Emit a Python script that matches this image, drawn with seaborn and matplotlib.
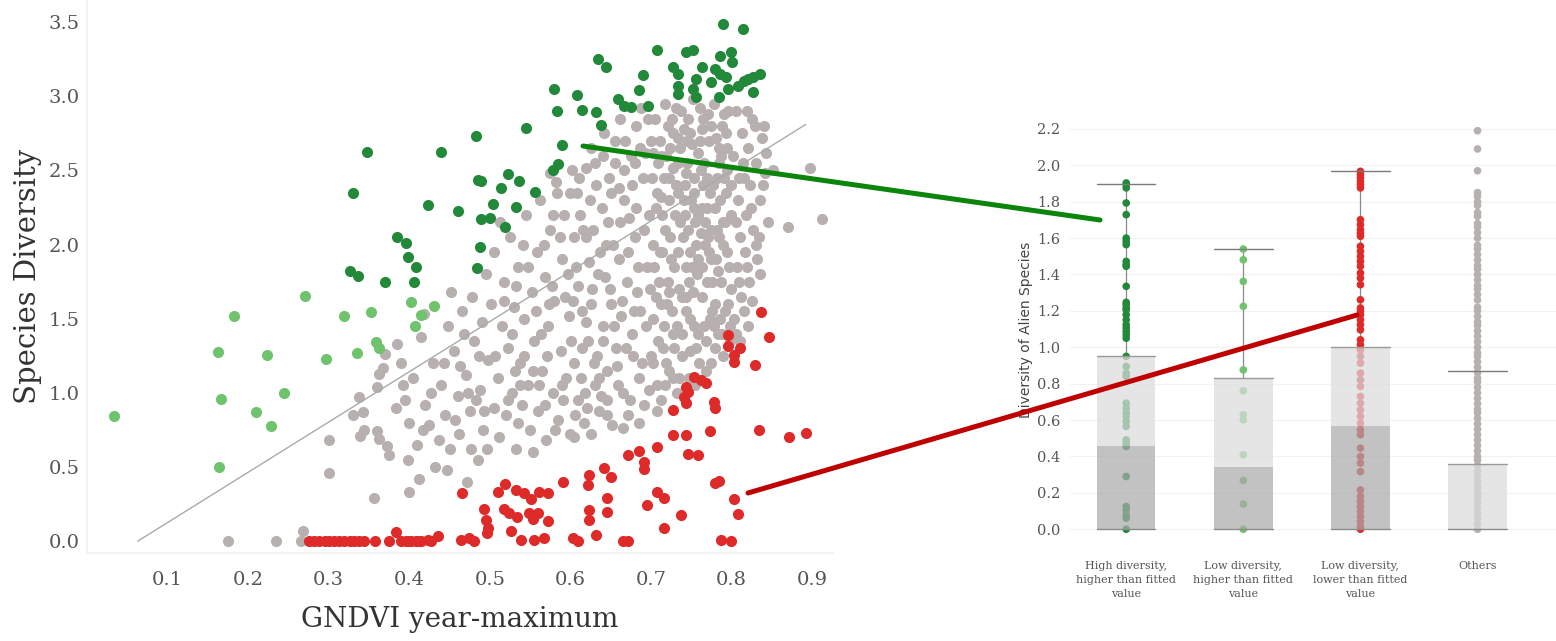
import matplotlib
matplotlib.use("Agg")
import matplotlib.pyplot as plt
from matplotlib.lines import Line2D
import seaborn as sns
import pandas as pd

# ---------------- data: left scatter (GNDVI vs species diversity) ----------------
dark_green_pts = [
    (0.789, 3.486), (0.814, 3.453), (0.707, 3.311), (0.744, 3.297), (0.752, 3.311), (0.786, 3.270),
    (0.799, 3.297), (0.801, 3.230), (0.634, 3.250), (0.644, 3.196), (0.690, 3.142), (0.727, 3.196),
    (0.733, 3.149), (0.764, 3.196), (0.780, 3.182), (0.786, 3.149), (0.793, 3.128), (0.821, 3.115),
    (0.836, 3.149), (0.827, 3.128), (0.815, 3.101), (0.808, 3.068), (0.796, 3.047), (0.785, 2.993),
    (0.827, 3.027), (0.756, 3.115), (0.752, 3.047), (0.756, 2.993), (0.734, 3.068), (0.734, 3.014),
    (0.774, 3.095), (0.685, 3.041), (0.696, 2.932), (0.659, 2.980), (0.666, 2.932), (0.675, 2.926),
    (0.580, 3.047), (0.608, 3.007), (0.615, 2.905), (0.632, 2.892), (0.638, 2.804), (0.583, 2.899),
    (0.545, 2.784), (0.589, 2.669), (0.483, 2.736), (0.440, 2.622), (0.585, 2.541), (0.578, 2.500),
    (0.485, 2.439), (0.489, 2.426), (0.523, 2.473), (0.536, 2.426), (0.514, 2.385), (0.556, 2.358),
    (0.423, 2.264), (0.461, 2.230), (0.504, 2.277), (0.532, 2.257), (0.489, 2.176), (0.500, 2.182),
    (0.519, 2.122), (0.488, 1.986), (0.484, 1.845), (0.396, 2.014), (0.399, 1.919), (0.409, 1.851),
    (0.406, 1.750), (0.347, 2.622), (0.330, 2.351), (0.385, 2.054), (0.326, 1.824), (0.337, 1.791),
    (0.370, 1.750),
]
light_green_pts = [
    (0.182, 1.520), (0.270, 1.655), (0.319, 1.520), (0.352, 1.547), (0.033, 0.845), (0.162, 1.277),
    (0.224, 1.257), (0.297, 1.230), (0.335, 1.270), (0.359, 1.345), (0.363, 1.304), (0.166, 0.959),
    (0.244, 1.000), (0.210, 0.872), (0.228, 0.777), (0.164, 0.500), (0.402, 1.615), (0.431, 1.588),
    (0.415, 1.527), (0.407, 1.453),
]
red_pts = [
    (0.796, 1.392), (0.846, 1.378), (0.837, 1.547), (0.796, 1.318), (0.811, 1.304), (0.803, 1.257),
    (0.803, 1.209), (0.829, 1.189), (0.753, 1.108), (0.762, 1.088), (0.768, 1.068), (0.743, 1.041),
    (0.746, 1.007), (0.741, 0.973), (0.743, 0.932), (0.778, 0.939), (0.780, 0.899), (0.727, 0.885),
    (0.773, 0.743), (0.834, 0.750), (0.871, 0.703), (0.892, 0.730), (0.727, 0.716), (0.744, 0.716),
    (0.708, 0.635), (0.685, 0.608), (0.671, 0.581), (0.746, 0.588), (0.758, 0.581), (0.692, 0.534),
    (0.691, 0.486), (0.642, 0.493), (0.650, 0.432), (0.623, 0.446), (0.622, 0.378), (0.591, 0.399),
    (0.784, 0.405), (0.780, 0.392), (0.708, 0.331), (0.716, 0.291), (0.803, 0.284), (0.646, 0.291),
    (0.695, 0.243), (0.808, 0.182), (0.737, 0.176), (0.623, 0.209), (0.623, 0.142), (0.646, 0.196),
    (0.716, 0.088), (0.632, 0.041), (0.466, 0.324), (0.510, 0.331), (0.519, 0.385), (0.532, 0.345),
    (0.542, 0.324), (0.551, 0.284), (0.561, 0.331), (0.572, 0.324), (0.493, 0.216), (0.495, 0.142),
    (0.498, 0.088), (0.497, 0.054), (0.518, 0.216), (0.524, 0.189), (0.534, 0.162), (0.549, 0.189),
    (0.554, 0.149), (0.560, 0.189), (0.572, 0.135), (0.526, 0.068), (0.539, 0.007), (0.555, 0.007),
    (0.567, 0.020), (0.603, 0.020), (0.609, 0.000), (0.665, 0.000), (0.671, 0.000), (0.787, 0.007),
    (0.799, 0.000), (0.464, 0.007), (0.474, 0.020), (0.480, 0.000), (0.436, 0.034), (0.423, 0.007),
    (0.411, 0.000), (0.399, 0.000), (0.276, 0.0), (0.282, 0.0), (0.288, 0.0), (0.295, 0.0),
    (0.301, 0.0), (0.307, 0.0), (0.313, 0.0), (0.319, 0.0), (0.326, 0.0), (0.332, 0.0), (0.338, 0.0),
    (0.344, 0.0), (0.357, 0.0), (0.375, 0.0), (0.384, 0.06), (0.390, 0.0), (0.396, 0.0), (0.402, 0.0),
    (0.409, 0.0), (0.415, 0.0), (0.427, 0.0),
]
gray_pts = [
    (0.175, 0.0), (0.235, 0.0), (0.268, 0.07), (0.266, 0.0), (0.300, 0.46), (0.301, 0.68), (0.33, 0.85),
    (0.338, 0.97), (0.342, 0.87), (0.344, 0.75), (0.339, 0.71), (0.356, 0.29), (0.36, 1.04), (0.362, 1.13),
    (0.368, 1.17), (0.37, 1.26), (0.36, 0.74), (0.363, 0.69), (0.372, 0.64), (0.375, 0.58), (0.383, 0.90),
    (0.39, 1.20), (0.395, 0.95), (0.40, 0.8), (0.398, 0.55), (0.385, 1.33), (0.392, 1.05),
    (0.405, 1.10), (0.41, 0.65), (0.412, 0.42), (0.415, 1.38), (0.42, 0.92), (0.425, 0.78), (0.43, 1.20),
    (0.432, 0.50), (0.44, 1.05), (0.445, 0.85), (0.448, 1.45), (0.45, 0.62), (0.455, 1.28), (0.46, 0.98),
    (0.462, 0.72), (0.465, 1.55), (0.47, 1.12), (0.472, 0.40), (0.475, 0.88), (0.478, 1.65), (0.48, 1.35),
    (0.485, 0.55), (0.488, 1.02), (0.49, 1.48), (0.492, 0.75), (0.495, 1.80), (0.498, 1.22), (0.40, 0.33),
    (0.418, 1.53), (0.437, 0.68), (0.452, 1.68), (0.468, 1.40), (0.483, 0.95), (0.497, 0.62), (0.502, 1.60),
    (0.505, 0.90),
    (0.505, 1.95), (0.51, 1.10), (0.512, 0.70), (0.515, 1.45), (0.518, 1.75), (0.52, 0.85), (0.522, 1.30),
    (0.525, 2.05), (0.528, 1.00), (0.53, 1.58), (0.532, 0.62), (0.535, 1.85), (0.538, 1.20), (0.54, 0.92),
    (0.542, 1.50), (0.545, 2.20), (0.548, 1.05), (0.55, 0.75), (0.552, 1.68), (0.555, 1.35), (0.558, 1.95),
    (0.56, 0.88), (0.562, 2.30), (0.565, 1.15), (0.568, 1.78), (0.57, 0.68), (0.572, 1.45), (0.575, 2.10),
    (0.578, 1.00), (0.58, 1.62), (0.582, 2.42), (0.585, 0.82), (0.588, 1.28), (0.59, 1.90), (0.592, 2.20),
    (0.595, 1.10), (0.598, 1.52), (0.60, 0.72), (0.513, 2.15), (0.527, 1.40), (0.543, 1.25), (0.557, 1.55),
    (0.567, 2.00), (0.577, 1.72), (0.587, 2.05), (0.597, 1.80), (0.553, 0.60), (0.535, 0.80), (0.583, 2.35),
    (0.575, 2.48),
    (0.602, 2.50), (0.605, 1.20), (0.607, 1.85), (0.61, 0.95), (0.612, 2.20), (0.615, 1.55), (0.617, 0.80),
    (0.62, 2.05), (0.622, 1.35), (0.625, 2.65), (0.627, 1.70), (0.63, 1.05), (0.632, 2.40), (0.635, 0.88),
    (0.637, 1.95), (0.64, 1.45), (0.642, 2.75), (0.645, 1.15), (0.647, 2.15), (0.65, 1.60), (0.652, 0.78),
    (0.655, 2.55), (0.657, 1.30), (0.66, 1.90), (0.662, 2.85), (0.665, 1.00), (0.667, 2.30), (0.67, 1.75),
    (0.672, 0.85), (0.675, 2.60), (0.677, 1.40), (0.68, 2.05), (0.682, 2.80), (0.685, 1.10), (0.687, 1.55),
    (0.69, 2.45), (0.692, 0.92), (0.695, 1.85), (0.697, 2.20), (0.70, 1.25), (0.603, 1.62), (0.613, 1.10),
    (0.623, 1.88), (0.633, 1.25), (0.643, 1.78), (0.653, 2.00), (0.663, 1.52), (0.673, 2.18), (0.683, 1.68),
    (0.693, 2.62), (0.608, 2.35), (0.628, 2.10), (0.648, 2.45), (0.668, 2.70), (0.688, 2.92), (0.618, 1.00),
    (0.638, 0.98), (0.658, 1.18), (0.678, 1.25), (0.698, 1.02), (0.605, 0.70), (0.625, 0.72), (0.645, 0.85),
    (0.665, 0.76), (0.685, 0.80), (0.62, 2.52), (0.64, 2.60), (0.66, 2.38), (0.68, 2.55), (0.70, 2.70),
    (0.702, 2.00), (0.703, 1.50), (0.705, 2.85), (0.707, 1.05), (0.708, 2.35), (0.71, 1.75), (0.712, 0.95),
    (0.713, 2.60), (0.715, 1.30), (0.717, 2.10), (0.718, 2.95), (0.72, 1.60), (0.722, 1.15), (0.723, 2.45),
    (0.725, 1.90), (0.727, 2.75), (0.728, 1.40), (0.73, 2.20), (0.732, 1.00), (0.733, 2.55), (0.735, 1.70),
    (0.737, 2.90), (0.738, 1.25), (0.74, 2.05), (0.742, 2.40), (0.743, 1.55), (0.745, 2.70), (0.747, 1.10),
    (0.748, 1.95), (0.75, 2.30), (0.752, 2.98), (0.753, 1.45), (0.755, 2.15), (0.757, 1.80), (0.758, 2.62),
    (0.76, 1.20), (0.762, 2.50), (0.763, 1.65), (0.765, 2.85), (0.767, 2.00), (0.768, 1.35), (0.77, 2.25),
    (0.772, 2.70), (0.773, 1.50), (0.775, 1.90), (0.777, 2.40), (0.778, 2.95), (0.78, 1.60), (0.782, 2.10),
    (0.783, 1.40), (0.785, 2.55), (0.787, 1.75), (0.788, 2.80), (0.79, 2.00), (0.792, 1.55), (0.793, 2.35),
    (0.795, 2.65), (0.797, 1.85), (0.798, 1.45), (0.80, 2.20), (0.706, 2.25), (0.716, 2.45), (0.726, 1.55),
    (0.736, 2.15), (0.746, 2.85), (0.756, 2.00), (0.766, 2.55), (0.776, 1.75), (0.786, 2.30), (0.796, 2.90),
    (0.704, 1.85), (0.714, 1.95), (0.724, 2.65), (0.734, 2.35), (0.744, 1.85), (0.754, 2.45), (0.764, 2.25),
    (0.774, 2.10), (0.784, 2.05), (0.794, 2.50), (0.709, 1.35), (0.719, 1.20), (0.729, 1.85), (0.739, 1.65),
    (0.749, 1.50), (0.759, 1.90), (0.769, 1.75), (0.779, 1.30), (0.789, 1.25), (0.799, 1.70), (0.711, 2.70),
    (0.721, 2.80), (0.731, 2.92), (0.741, 2.78), (0.751, 2.68), (0.761, 2.92), (0.771, 2.88), (0.781, 2.72),
    (0.791, 2.88), (0.712, 1.60), (0.732, 1.45), (0.752, 1.68), (0.772, 1.95), (0.792, 2.15), (0.722, 2.30),
    (0.742, 2.20), (0.762, 2.08), (0.782, 2.45), (0.735, 1.10), (0.755, 1.05), (0.775, 1.20), (0.708, 0.88),
    (0.745, 2.55), (0.765, 2.40),
    (0.802, 2.60), (0.803, 1.50), (0.805, 2.90), (0.807, 1.85), (0.808, 2.30), (0.81, 2.05), (0.812, 1.65),
    (0.813, 2.75), (0.815, 2.45), (0.817, 1.95), (0.818, 2.20), (0.82, 2.65), (0.822, 1.75), (0.823, 2.40),
    (0.825, 2.85), (0.827, 2.10), (0.83, 2.55), (0.832, 1.90), (0.835, 2.30), (0.838, 2.72), (0.84, 2.80),
    (0.842, 2.48), (0.845, 2.15), (0.806, 1.40), (0.811, 1.35), (0.816, 1.55), (0.821, 1.45), (0.826, 1.62),
    (0.831, 2.00), (0.836, 1.80), (0.843, 2.62), (0.852, 2.50), (0.87, 2.12), (0.898, 2.52), (0.912, 2.17),
    (0.601, 1.35), (0.604, 2.05), (0.606, 0.85), (0.609, 1.72), (0.611, 2.45), (0.614, 1.30), (0.616, 2.10),
    (0.619, 1.48), (0.621, 0.90), (0.624, 2.30), (0.626, 1.60), (0.629, 1.20), (0.631, 2.55), (0.634, 1.80),
    (0.636, 1.10), (0.639, 2.25), (0.641, 1.35), (0.644, 2.00), (0.646, 0.95), (0.649, 1.70), (0.651, 2.35),
    (0.654, 1.45), (0.656, 2.70), (0.659, 1.05), (0.661, 2.15), (0.664, 1.62), (0.666, 2.50), (0.669, 1.30),
    (0.671, 1.95), (0.674, 0.95), (0.676, 2.40), (0.679, 1.55), (0.681, 2.25), (0.684, 1.85), (0.686, 2.65),
    (0.689, 1.20), (0.691, 2.10), (0.694, 1.45), (0.696, 2.85), (0.699, 1.70),
    (0.701, 2.45), (0.703, 1.20), (0.706, 1.65), (0.709, 2.55), (0.711, 1.95), (0.714, 2.20), (0.716, 1.45),
    (0.719, 2.60), (0.721, 1.75), (0.724, 2.05), (0.726, 2.85), (0.729, 1.30), (0.731, 2.40), (0.734, 1.95),
    (0.736, 2.65), (0.739, 1.40), (0.741, 2.30), (0.744, 1.65), (0.746, 2.10), (0.749, 2.75), (0.751, 1.85),
    (0.754, 2.35), (0.756, 1.30), (0.759, 2.20), (0.761, 2.70), (0.764, 1.85), (0.766, 1.45), (0.769, 2.45),
    (0.771, 2.05), (0.774, 2.80), (0.776, 1.55), (0.779, 2.25), (0.781, 1.90), (0.784, 2.65), (0.786, 1.50),
    (0.789, 2.15), (0.791, 2.45), (0.794, 1.95), (0.796, 1.60), (0.799, 2.40),
    (0.703, 2.62), (0.713, 2.32), (0.723, 1.68), (0.733, 2.72), (0.743, 2.48), (0.753, 2.25), (0.763, 2.78),
    (0.773, 2.35), (0.783, 1.82), (0.793, 2.75), (0.718, 1.05), (0.728, 1.10), (0.738, 1.00), (0.748, 1.28),
    (0.758, 1.40), (0.768, 1.15), (0.778, 1.45), (0.788, 1.40), (0.798, 1.35), (0.727, 2.52), (0.747, 1.75),
    (0.767, 2.15), (0.787, 2.60),
    (0.806, 2.15), (0.809, 1.75), (0.814, 2.55), (0.819, 1.85), (0.824, 2.25), (0.829, 2.80), (0.834, 2.05),
    (0.839, 2.40), (0.809, 2.45), (0.819, 2.90),
    (0.507, 1.25), (0.517, 1.62), (0.523, 0.95), (0.533, 1.72), (0.537, 1.05), (0.547, 1.85), (0.553, 1.15),
    (0.563, 1.40), (0.569, 0.92), (0.573, 1.60), (0.579, 2.20), (0.589, 1.05), (0.593, 1.65), (0.599, 2.35),
    (0.541, 2.00), (0.561, 1.05), (0.571, 1.25), (0.581, 0.75), (0.591, 0.95), (0.531, 1.15),
    (0.457, 0.82), (0.463, 1.18), (0.473, 1.00), (0.477, 0.62), (0.487, 1.25), (0.493, 0.88), (0.443, 1.20),
    (0.427, 1.00), (0.417, 0.75), (0.447, 0.48),
]
fit_x = [0.063, 0.892]
fit_y = [0.0, 2.81]

# ---------------- data: right panel (diversity of alien species) ----------------
categories = ["High diversity,\nhigher than fitted\nvalue",
              "Low diversity,\nhigher than fitted\nvalue",
              "Low diversity,\nlower than fitted\nvalue",
              "Others"]
bar_upper = [0.95, 0.83, 1.00, 0.36]
bar_lower = [0.46, 0.34, 0.57, 0.0]
whisker_top = [1.90, 1.54, 1.97, 0.87]
alien_high_above = [1.903, 1.894, 1.876, 1.793, 1.729, 1.600, 1.582, 1.564, 1.472, 1.454, 1.445, 1.335,
                    1.247, 1.234, 1.216, 1.206, 1.179, 1.151, 1.124, 1.106, 1.087, 1.069, 1.050, 0.950,
                    0.895, 0.858, 0.840, 0.693, 0.665, 0.638, 0.620, 0.592, 0.565, 0.491, 0.473, 0.455,
                    0.290, 0.125, 0.106, 0.079, 0.061, 0.0]
alien_low_above = [1.54, 1.481, 1.362, 1.225, 0.876, 0.761, 0.629, 0.601, 0.409, 0.268, 0.138, 0.0]
alien_low_below = [1.967, 1.949, 1.931, 1.912, 1.894, 1.876, 1.701, 1.674, 1.646, 1.628, 1.610, 1.555,
                   1.527, 1.499, 1.472, 1.445, 1.408, 1.380, 1.344, 1.261, 1.216, 1.197, 1.179, 1.151,
                   1.124, 1.096, 1.041, 1.014, 0.986, 0.950, 0.913, 0.858, 0.821, 0.785, 0.730, 0.693,
                   0.656, 0.620, 0.583, 0.546, 0.519, 0.446, 0.400, 0.363, 0.317, 0.216, 0.180, 0.152,
                   0.125, 0.097, 0.070, 0.042, 0.015, 0.0]
alien_others = [2.19, 2.09, 1.97, 1.85, 1.83, 1.80, 1.78, 1.74, 1.72, 1.68, 1.66, 1.63, 1.60, 1.56, 1.54,
                1.51, 1.48, 1.45, 1.43, 1.40, 1.37, 1.34, 1.32, 1.29, 1.26, 1.22, 1.20, 1.17, 1.14, 1.12,
                1.09, 1.06, 1.03, 1.00, 0.97, 0.95, 0.92, 0.89, 0.86, 0.83, 0.81, 0.78, 0.75, 0.72, 0.69,
                0.66, 0.64, 0.61, 0.58, 0.55, 0.52, 0.49, 0.46, 0.43, 0.40, 0.38, 0.35, 0.32, 0.29, 0.26,
                0.23, 0.20, 0.18, 0.15, 0.12, 0.09, 0.06, 0.03, 0.0]

# ---------------- style ----------------
sns.set_theme(style="white")
plt.rcParams["font.family"] = ["DejaVu Serif"]

C_DARK = "#22883a"
C_LIGHT = "#6fc36d"
C_RED = "#df2a2a"
C_GRAY = "#b8b0ae"

fig = plt.figure(figsize=(15.56, 6.41), dpi=100)

# ---------------- left scatter ----------------
ax1 = fig.add_axes([87 / 1556, 1 - 553 / 641, 746 / 1556, 553 / 641])
groups = [("gray", gray_pts, C_GRAY), ("light", light_green_pts, C_LIGHT),
          ("dark", dark_green_pts, C_DARK), ("red", red_pts, C_RED)]
for name, pts, col in groups:
    df = pd.DataFrame(pts, columns=["x", "y"])
    sns.scatterplot(data=df, x="x", y="y", color=col, s=64, linewidth=0, ax=ax1, zorder=2)
sns.lineplot(x=fit_x, y=fit_y, color="#aaaaaa", linewidth=1.0, ax=ax1, zorder=3)
ax1.set_xlim(0.0, 0.926)
ax1.set_ylim(-0.08, 3.65)
ax1.set_xticks([0.1, 0.2, 0.3, 0.4, 0.5, 0.6, 0.7, 0.8, 0.9])
ax1.set_yticks([0.0, 0.5, 1.0, 1.5, 2.0, 2.5, 3.0, 3.5])
ax1.set_xticklabels([f"{v:.1f}" for v in ax1.get_xticks()])
ax1.set_yticklabels([f"{v:.1f}" for v in ax1.get_yticks()])
ax1.tick_params(axis="x", labelsize=14, labelcolor="#555555", length=0, pad=13)
ax1.tick_params(axis="y", labelsize=14, labelcolor="#555555", length=0, pad=5)
ax1.set_xlabel("GNDVI year-maximum", fontsize=20, color="#333333", labelpad=12)
ax1.set_ylabel("Species Diversity", fontsize=21, color="#333333", labelpad=5)
for sp in ["top", "right"]:
    ax1.spines[sp].set_visible(False)
for sp in ["left", "bottom"]:
    ax1.spines[sp].set_color("#f2f2f2")

# ---------------- right strip + bars ----------------
ax2 = fig.add_axes([1070 / 1556, 1 - 542 / 641, 486 / 1556, 424 / 641])
rows = []
for cat, vals in zip(categories, [alien_high_above, alien_low_above, alien_low_below, alien_others]):
    rows += [(cat, v) for v in vals]
sdf = pd.DataFrame(rows, columns=["group", "value"])
sns.stripplot(data=sdf, x="group", y="value", hue="group", order=categories, hue_order=categories,
              palette=[C_DARK, C_LIGHT, C_RED, C_GRAY], jitter=False, size=5.5, linewidth=0,
              legend=False, ax=ax2, zorder=2)
pos = list(range(len(categories)))
w = 0.5
for p, top, lo in zip(pos, whisker_top, bar_upper):
    ax2.plot([p, p], [lo, top], color="#8a8a8a", linewidth=0.9, zorder=1)
    ax2.plot([p - w / 2, p + w / 2], [top, top], color="#7a7a7a", linewidth=1.0, zorder=4)
ax2.bar(pos, [u - l for u, l in zip(bar_upper, bar_lower)], bottom=bar_lower, width=w,
        color="#dcdcdc", alpha=0.72, zorder=3, linewidth=0)
ax2.bar(pos, bar_lower, width=w, color="#ababab", alpha=0.72, zorder=3, linewidth=0)
for p, u in zip(pos, bar_upper):
    ax2.plot([p - w / 2, p + w / 2], [u, u], color="#9a9a9a", linewidth=1.0, zorder=4)
    ax2.plot([p - w / 2, p + w / 2], [0, 0], color="#8a8a8a", linewidth=1.0, zorder=4)
ax2.set_xlim(-0.48, 3.67)
ax2.set_ylim(-0.07, 2.26)
ax2.set_yticks([0.0, 0.2, 0.4, 0.6, 0.8, 1.0, 1.2, 1.4, 1.6, 1.8, 2.0, 2.2])
ax2.set_yticklabels([f"{v:.1f}" for v in ax2.get_yticks()])
ax2.set_xticks(pos)
ax2.set_xticklabels(categories, linespacing=1.45)
ax2.tick_params(axis="y", labelsize=10.5, labelcolor="#555555", length=0, pad=7)
ax2.tick_params(axis="x", labelsize=8, labelcolor="#555555", length=0, pad=14)
ax2.set_xlabel("")
ax2.set_ylabel("Diversity of Alien Species", fontsize=10, color="#444444", labelpad=3,
               family=["DejaVu Sans"])
ax2.yaxis.grid(True, color="#f2f2f2", linewidth=0.8)
ax2.set_axisbelow(True)
for sp in ax2.spines.values():
    sp.set_visible(False)

# ---------------- connector lines (figure coordinates) ----------------
def fig_pt(px, py):
    return px / 1556, 1 - py / 641

g0, g1 = fig_pt(583, 146), fig_pt(1100, 220)
r0, r1 = fig_pt(748, 493), fig_pt(1357, 315)
fig.add_artist(Line2D([g0[0], g1[0]], [g0[1], g1[1]], color="#0b850b", linewidth=3.6,
                      transform=fig.transFigure, zorder=10))
fig.add_artist(Line2D([r0[0], r1[0]], [r0[1], r1[1]], color="#bf0000", linewidth=3.6,
                      transform=fig.transFigure, zorder=10))

fig.savefig("out.png", dpi=100)
